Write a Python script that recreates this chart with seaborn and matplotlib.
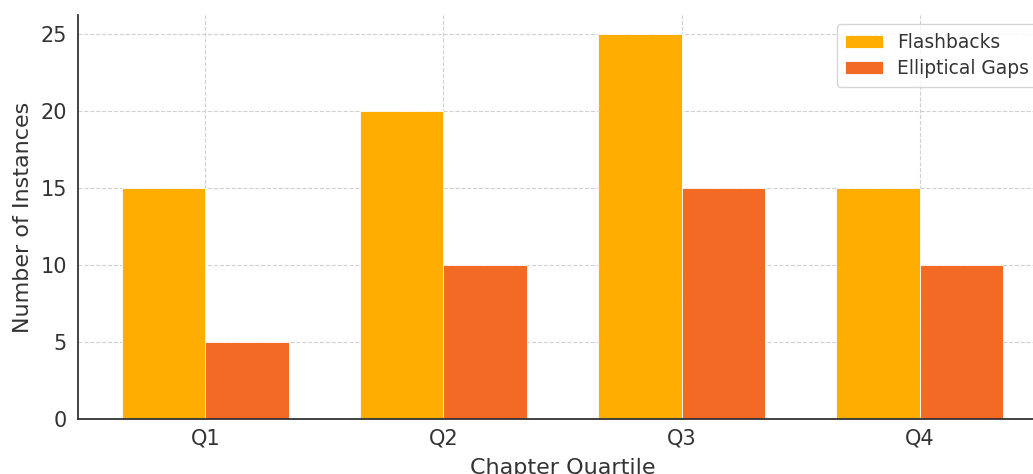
import matplotlib
matplotlib.use("Agg")
import matplotlib.pyplot as plt
import seaborn as sns
import pandas as pd

quartiles = ["Q1", "Q2", "Q3", "Q4"]
flashbacks = [15, 20, 25, 15]
elliptical_gaps = [5, 10, 15, 10]
series_names = ["Flashbacks", "Elliptical Gaps"]
palette = ["#FFAE00", "#F26A23"]

df = pd.DataFrame({
    "Chapter Quartile": quartiles * 2,
    "Number of Instances": flashbacks + elliptical_gaps,
    "Series": [series_names[0]] * 4 + [series_names[1]] * 4,
})

sns.set_theme(style="white")
plt.rcParams["font.family"] = ["DejaVu Sans"]

fig = plt.figure(figsize=(10.33, 4.74), dpi=100)
ax = fig.add_axes([0.0755, 0.116, 0.938, 0.852])

sns.barplot(
    data=df, x="Chapter Quartile", y="Number of Instances", hue="Series",
    palette=palette, width=0.7, ax=ax, edgecolor="white", linewidth=0.6,
    saturation=1,
)

ax.set_xlim(-0.535, 3.535)
ax.set_ylim(0, 26.25)
ax.set_yticks([0, 5, 10, 15, 20, 25])
ax.set_axisbelow(True)
ax.grid(True, linestyle="--", color="#d0d0d0", linewidth=0.8)

for side in ["top", "right"]:
    ax.spines[side].set_visible(False)
for side in ["left", "bottom"]:
    ax.spines[side].set_color("#333333")
    ax.spines[side].set_linewidth(1.3)

ax.tick_params(axis="both", direction="in", length=5, width=1, colors="#333333",
               labelsize=15, labelcolor="#333333")
ax.tick_params(axis="x", pad=7)
ax.tick_params(axis="y", pad=8)
ax.set_xlabel("Chapter Quartile", fontsize=16, color="#333333", labelpad=7)
ax.set_ylabel("Number of Instances", fontsize=16, color="#333333", labelpad=5)

leg = ax.legend(loc="upper right", fontsize=13.4, frameon=True, fancybox=True,
                borderpad=0.45, labelspacing=0.4, handlelength=2.0)
leg.get_frame().set_edgecolor("#cccccc")
for t in leg.get_texts():
    t.set_color("#333333")

fig.savefig("out.png", dpi=100)
